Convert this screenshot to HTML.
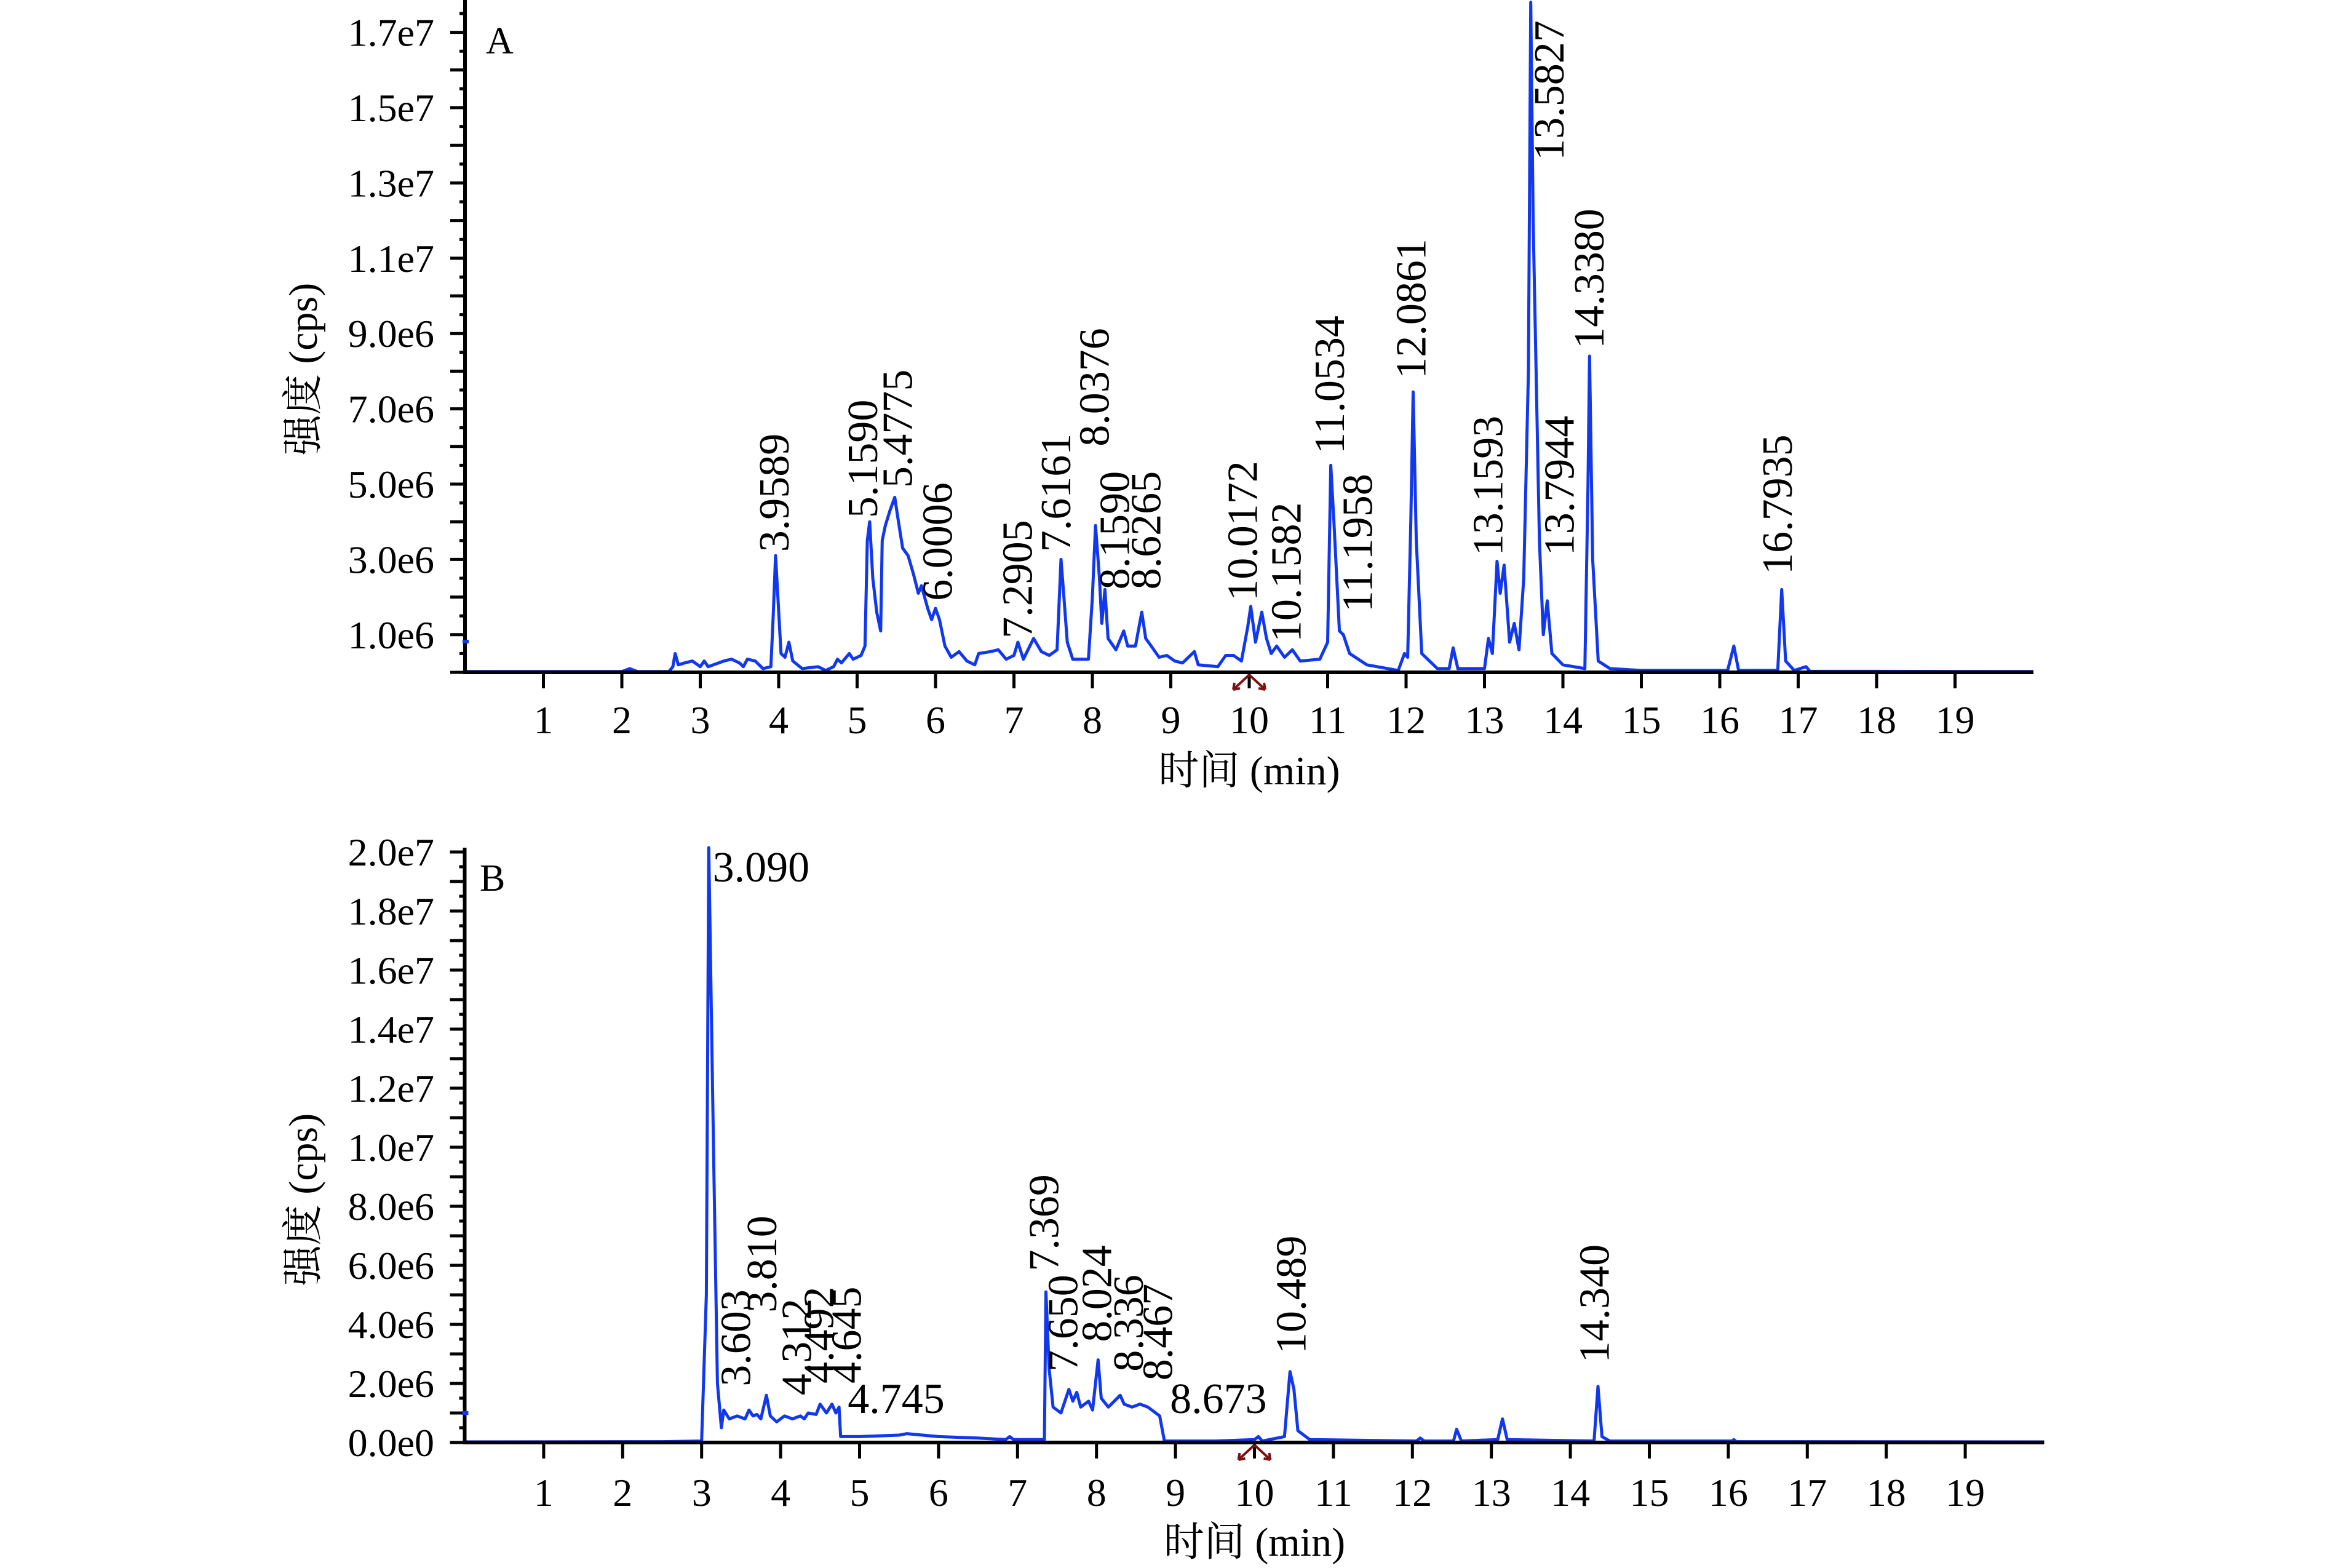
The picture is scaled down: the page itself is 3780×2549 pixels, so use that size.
<!DOCTYPE html>
<html><head><meta charset="utf-8"><style>
html,body{margin:0;padding:0;background:#fff;}
svg{display:block;font-family:"Liberation Serif","Noto Serif CJK SC",serif;}
</style></head><body>
<svg id="chart" width="3780" height="2549" viewBox="0 0 3780 2549" xmlns="http://www.w3.org/2000/svg">
<rect width="3780" height="2549" fill="#fff"/>
<g id="panelA"></g>
<g id="panelB"></g>
</svg>
<script>
// ---- Panel A data (time min, intensity 1e6 cps) ----
const timesA = [0,2.0,2.1,2.2,2.6,2.65,2.68,2.72,2.8,2.9,3.0,3.05,3.1,3.3,3.4,3.5,3.55,3.6,3.7,3.8,3.9,3.93,3.96,3.99,4.03,4.08,4.13,4.18,4.3,4.5,4.6,4.7,4.75,4.8,4.9,4.95,5.05,5.1,5.13,5.16,5.2,5.25,5.3,5.32,5.36,5.42,5.48,5.52,5.58,5.65,5.72,5.78,5.82,5.9,5.95,6.0,6.05,6.12,6.2,6.3,6.4,6.5,6.55,6.7,6.8,6.9,7.0,7.05,7.12,7.25,7.35,7.45,7.55,7.6,7.63,7.68,7.75,7.95,8.0,8.04,8.09,8.12,8.16,8.2,8.3,8.4,8.45,8.55,8.63,8.68,8.75,8.85,8.95,9.05,9.15,9.3,9.35,9.6,9.7,9.8,9.9,9.98,10.02,10.08,10.16,10.22,10.28,10.35,10.45,10.55,10.65,10.9,11.0,11.04,11.08,11.15,11.2,11.28,11.5,11.9,11.98,12.02,12.06,12.09,12.13,12.2,12.4,12.55,12.6,12.66,13.0,13.05,13.1,13.16,13.2,13.25,13.32,13.38,13.44,13.5,13.56,13.59,13.62,13.7,13.75,13.8,13.86,14.0,14.28,14.32,14.34,14.38,14.45,14.6,15.0,16.1,16.18,16.24,16.74,16.79,16.84,16.95,17.1,17.15,20];
const valuesA = [0.02,0.02,0.1,0.02,0.02,0.15,0.5,0.2,0.25,0.3,0.15,0.3,0.15,0.3,0.35,0.25,0.15,0.35,0.3,0.1,0.15,1.5,3.1,2.0,0.5,0.4,0.8,0.3,0.1,0.15,0.05,0.15,0.35,0.25,0.5,0.35,0.45,0.7,3.5,4.0,2.5,1.6,1.1,3.5,3.9,4.3,4.65,4.1,3.3,3.1,2.6,2.1,2.3,1.7,1.4,1.7,1.4,0.7,0.4,0.55,0.3,0.2,0.5,0.55,0.6,0.35,0.45,0.8,0.35,0.9,0.55,0.45,0.6,3.0,2.2,0.8,0.35,0.35,2.0,3.9,2.5,1.3,2.2,0.9,0.6,1.1,0.7,0.7,1.6,0.9,0.7,0.4,0.45,0.3,0.25,0.55,0.2,0.15,0.45,0.45,0.3,1.2,1.75,0.8,1.6,0.9,0.5,0.7,0.4,0.6,0.3,0.35,0.8,5.5,4.0,1.1,1.0,0.5,0.2,0.05,0.5,0.4,4.0,7.45,3.5,0.5,0.1,0.1,0.65,0.1,0.1,0.9,0.5,2.95,2.1,2.85,0.8,1.3,0.6,2.5,8.0,17.8,12.0,3.5,1.0,1.9,0.5,0.2,0.1,5.0,8.4,3.0,0.3,0.1,0.05,0.05,0.7,0.05,0.05,2.2,0.3,0.05,0.15,0.03,0.02];
const peakNamesA = ["3.9589","5.1590","5.4775","6.0006","7.2905","7.6161","8.0376","8.1590","8.6265","10.0172","10.1582","11.0534","11.1958","12.0861","13.1593","13.5827","13.7944","14.3380","16.7935"];
const peakLabelTA = [3.95,5.08,5.52,6.03,7.05,7.54,8.03,8.29,8.69,9.92,10.48,11.03,11.39,12.07,13.05,13.83,13.96,14.34,16.74];
const peakLabelVA = [3.2,4.1,4.9,1.9,0.9,3.2,6.0,2.2,2.2,1.9,0.8,5.8,1.6,7.8,3.1,13.6,3.1,8.6,2.6];
const yTickLabelsA = ["1.0e6","3.0e6","5.0e6","7.0e6","9.0e6","1.1e7","1.3e7","1.5e7","1.7e7"];
const yTickValsA = [1,3,5,7,9,11,13,15,17];

// ---- Panel B data ----
const timesB = [0,2.5,3.0,3.06,3.09,3.15,3.2,3.25,3.28,3.35,3.45,3.55,3.6,3.65,3.7,3.75,3.82,3.87,3.95,4.05,4.15,4.25,4.3,4.35,4.45,4.5,4.58,4.65,4.7,4.74,4.76,5.0,5.5,5.6,6.0,6.5,6.85,6.9,6.95,7.34,7.36,7.4,7.45,7.55,7.65,7.7,7.75,7.8,7.9,7.95,8.02,8.06,8.15,8.3,8.35,8.45,8.55,8.65,8.8,8.86,9.5,10.0,10.05,10.1,10.38,10.45,10.5,10.55,10.7,12.05,12.1,12.15,12.52,12.56,12.62,13.08,13.14,13.2,14.3,14.35,14.4,14.5,16.05,16.07,16.1,20];
const valuesB = [0.02,0.03,0.05,5.0,20.2,10.0,2.0,0.5,1.1,0.8,0.9,0.8,1.1,0.9,0.95,0.8,1.6,0.9,0.7,0.9,0.8,0.9,0.8,1.0,0.95,1.3,1.0,1.3,1.0,1.2,0.2,0.2,0.25,0.3,0.2,0.15,0.1,0.2,0.1,0.1,5.1,2.5,1.2,1.0,1.8,1.4,1.7,1.2,1.4,1.1,2.8,1.5,1.2,1.6,1.3,1.2,1.3,1.2,0.9,0.05,0.05,0.1,0.2,0.05,0.2,2.4,1.8,0.4,0.1,0.05,0.15,0.05,0.05,0.45,0.05,0.1,0.8,0.1,0.05,1.9,0.2,0.05,0.05,0.1,0.03,0.02];
const peakNamesB = ["3.603","3.810","4.312","4.492","4.645","7.369","7.650","8.024","8.336","8.467","10.489","14.340"];
const peakLabelTB = [3.44,3.77,4.21,4.49,4.84,7.34,7.58,8.01,8.41,8.78,10.47,14.31];
const peakLabelVB = [1.9,4.4,1.6,2.0,2.0,5.8,2.4,3.4,2.4,2.1,3.0,2.7];
const flatNamesB = ["3.090","4.745","8.673"];
const flatLabelTB = [3.14,4.85,8.93];
const flatLabelVB = [19.0,1.0,1.0];
const yTickLabelsB = ["0.0e0","2.0e6","4.0e6","6.0e6","8.0e6","1.0e7","1.2e7","1.4e7","1.6e7","1.8e7","2.0e7"];
const yTickValsB = [0,2,4,6,8,10,12,14,16,18,20];
const xTickVals = [1,2,3,4,5,6,7,8,9,10,11,12,13,14,15,16,17,18,19];

const NS = "http://www.w3.org/2000/svg";
function mk(parent, tag, attrs, text){
  const e = document.createElementNS(NS, tag);
  for (const k in attrs) e.setAttribute(k, attrs[k]);
  if (text !== undefined) e.textContent = text;
  parent.appendChild(e);
  return e;
}

function drawPanel(g, cfg){
  const sx = t => cfg.x0 + t * cfg.perMin;
  const sy = v => cfg.y0 - v * cfg.perM;
  let d = "";
  for (let i = 0; i < cfg.times.length; i++){
    d += (i ? "L" : "M") + sx(cfg.times[i]).toFixed(1) + "," + Math.max(cfg.yTop, sy(cfg.vals[i])).toFixed(1);
  }
  const tr = mk(g, "path", {d: d, fill: "none", stroke: "#1238ee", "stroke-width": 5, "stroke-linejoin": "round"});
  
  
  const ax = mk(g, "path", {d: `M${cfg.x0},${cfg.yTop}V${cfg.y0}H${sx(20)}`, fill: "none", stroke: "#000", "stroke-width": 6});
  
  
  let td = "";
  for (let v = 0; sy(v) >= cfg.yTop - 1; v += 0.5){
    const len = (Math.abs(v - Math.round(v)) < 0.01) ? 24 : 9;
    td += `M${cfg.x0 - len},${sy(v).toFixed(1)}H${cfg.x0}`;
  }
  for (const t of xTickVals) td += `M${sx(t).toFixed(1)},${cfg.y0}V${cfg.y0 + 26}`;
  const tk = mk(g, "path", {d: td, stroke: "#000", "stroke-width": 5, fill: "none"});
  
  
  cfg.yVals.forEach((v, i) => {
    const t = mk(g, "text", {x: 706, y: sy(v) + 22, "font-size": 64, "text-anchor": "end"}, cfg.yLabels[i]);
    
    
  });
  xTickVals.forEach(v => {
    const t = mk(g, "text", {x: sx(v), y: cfg.xLabY, "font-size": 64, "text-anchor": "middle"}, String(v));
    
    
  });
  const xt = mk(g, "text", {x: sx(10), y: cfg.xTitleY, "font-size": 66, "text-anchor": "middle"}, "时间 (min)");
  
  
  const yt = mk(g, "text", {x: 0, y: 0, "font-size": 66, "text-anchor": "middle", transform: `translate(515,${cfg.yTitleY}) rotate(-90)`}, "强度 (cps)");
  
  
  const pl = mk(g, "text", {x: cfg.letterX, y: cfg.letterY, "font-size": 62}, cfg.letter);
  
  
  cfg.pNames.forEach((n, i) => {
    const x = sx(cfg.pT[i]), y = sy(cfg.pV[i]);
    const t = mk(g, "text", {x: 0, y: 0, "font-size": 70, "dominant-baseline": "central", transform: `translate(${x.toFixed(1)},${y.toFixed(1)}) rotate(-90)`}, n);
    
    
  });
  if (cfg.fNames) cfg.fNames.forEach((n, i) => {
    const t = mk(g, "text", {x: sx(cfg.fT[i]), y: sy(cfg.fV[i]), "font-size": 70}, n);
    
    
  });
  const ax10 = sx(10), ay = cfg.y0 + 4;
  const ar = mk(g, "path", {d: `M${ax10},${ay}l-26,24m0,0l2,-11m-2,11l11,-2M${ax10},${ay}l26,24m0,0l-2,-11m2,11l-11,-2`, stroke: "#7a1212", "stroke-width": 4, fill: "none"});
  
  
  const dot = mk(g, "rect", {x: cfg.x0 - 4, y: cfg.dotY - 3, width: 10, height: 6, fill: "#1238ee"});
  
  
}

drawPanel(document.getElementById("panelA"), {
  x0: 756, perMin: 127.5, y0: 1093, perM: 61.2, yTop: 0,
  times: timesA, vals: valuesA, yVals: yTickValsA, yLabels: yTickLabelsA,
  xLabY: 1192, xTitleY: 1275, yTitleY: 600, letter: "A", letterX: 790, letterY: 87,
  pNames: peakNamesA, pT: peakLabelTA, pV: peakLabelVA, dotY: 1043
});
drawPanel(document.getElementById("panelB"), {
  x0: 755.5, perMin: 128.4, y0: 2345, perM: 48, yTop: 1378,
  times: timesB, vals: valuesB, yVals: yTickValsB, yLabels: yTickLabelsB,
  xLabY: 2448, xTitleY: 2529, yTitleY: 1950, letter: "B", letterX: 780, letterY: 1448,
  pNames: peakNamesB, pT: peakLabelTB, pV: peakLabelVB,
  fNames: flatNamesB, fT: flatLabelTB, fV: flatLabelVB, dotY: 2297
});
</script>
</body></html>
